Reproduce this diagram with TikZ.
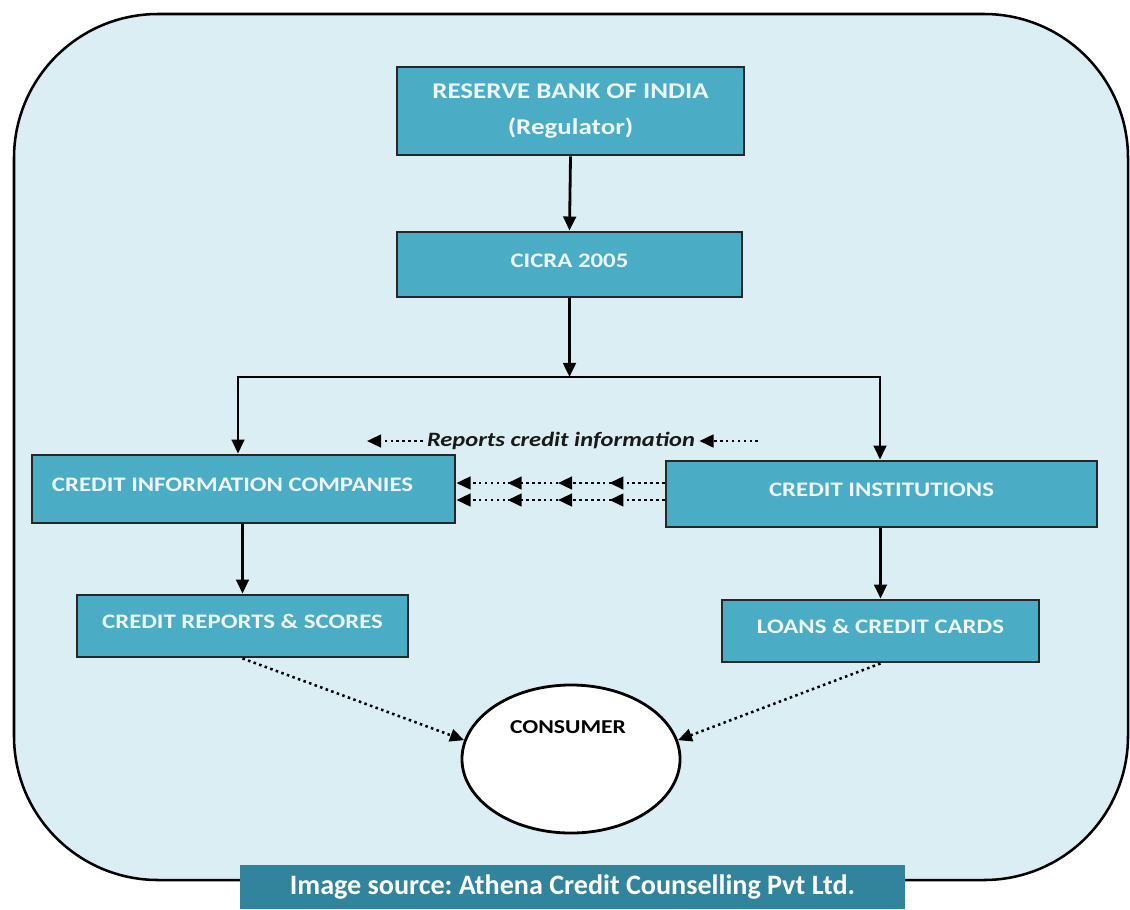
\documentclass[tikz,border=0pt]{standalone}
\usepackage{fontspec}
\setmainfont{Carlito}[FakeStretch=1.2]
\newfontfamily\srcfont{Carlito}
\usepackage{tikz}
\usetikzlibrary{arrows.meta}
\usetikzlibrary{shapes.geometric, calc, decorations.markings}
\frenchspacing

\definecolor{panel}{HTML}{DBEEF4}
\definecolor{boxfill}{HTML}{4BACC6}
\definecolor{banner}{HTML}{31849B}
\definecolor{boxtext}{HTML}{EEF8FB}

\begin{document}
\begin{tikzpicture}[x=0.025cm, y=-0.025cm,
    box/.style={draw=black!85, fill=boxfill, line width=2pt, text=boxtext,
        font=\bfseries\fontsize{14.7}{25}\selectfont, inner sep=0pt, text height=11pt, text depth=7pt},
    arr/.style={-{Triangle[length=10pt,width=9pt]}, line width=2pt},
    dotarr/.style={-{Triangle[length=10pt,width=9pt]}, line width=1.8pt,
        dash pattern=on 1.8pt off 2.4pt}]
    \useasboundingbox (0,0) rectangle (1130,909);
    \fill[white] (0,0) rectangle (1130,909);

    % Cadre
    \draw[fill=panel, line width=1.8pt, rounded corners=3.6cm] (14,14) rectangle (1128,880);

    % Boites
    \node[box, minimum width=8.675cm, minimum height=2.2cm, align=center, text height=, text depth=,
        font=\bfseries\fontsize{16}{25}\selectfont] (rbi) at (570.5,111)
        {RESERVE BANK OF INDIA\\(Regulator)};
    \node[box, minimum width=8.625cm, minimum height=1.625cm] (cicra) at (569.5,264.5) {CICRA 2005};
    \node[box, text width=9.575cm, inner xsep=0.5cm, align=flush left, minimum height=1.7cm] (cic) at (243.5,489)
        {CREDIT INFORMATION COMPANIES};
    \node[box, minimum width=10.775cm, minimum height=1.65cm] (ci) at (881.5,494) {CREDIT INSTITUTIONS};
    \node[box, minimum width=8.275cm, minimum height=1.55cm] (crs) at (242.5,626) {CREDIT REPORTS \& SCORES};
    \node[box, minimum width=7.925cm, minimum height=1.55cm] (lcc) at (880.5,631) {LOANS \& CREDIT CARDS};

    % Consommateur
    \node[ellipse, draw, fill=white, line width=2pt, minimum width=5.45cm, minimum height=3.7cm] (cons) at (571,759) {};
    \node[font=\bfseries\fontsize{14}{16}\selectfont] (constxt) at (568,727) {CONSUMER};

    % Fleches pleines
    \coordinate (jl) at (238,377);
    \coordinate (jr) at (880,377);
    \draw[arr] (rbi.south) -- (cicra.north);
    \draw[arr] (cicra.south) -- (cicra.south |- jl);
    \draw[line width=2pt] ([xshift=-1pt]jl) -- ([xshift=1pt]jr);
    \draw[arr] (jl) -- (jl |- cic.north);
    \draw[arr] (jr) -- (jr |- ci.north);
    \draw[arr] (crs.north |- cic.south) -- (crs.north);
    \draw[arr] (lcc.north |- ci.south) -- (lcc.north);

    % Fleches pointillees
    \node[font=\bfseries\itshape\fontsize{14.5}{18}\selectfont, text=black!90, inner xsep=3pt] (rep) at (561,441)
        {Reports credit information};
    \coordinate (repl) at (367,441);
    \coordinate (repr) at (758,441);
    \draw[dotarr] (rep.west) -- (repl);
    \draw[dotarr] (repr) -- (rep.east);
    \coordinate (ya) at (0,483);
    \coordinate (yb) at (0,500);
    \foreach \yy in {ya,yb}
        \draw[dotarr, postaction={decorate}, decoration={markings,
            mark=at position 0.265 with {\arrow{Triangle[length=10pt,width=9pt]}},
            mark=at position 0.512 with {\arrow{Triangle[length=10pt,width=9pt]}},
            mark=at position 0.754 with {\arrow{Triangle[length=10pt,width=9pt]}}}]
            (ci.west |- \yy) -- (cic.east |- \yy);
    \draw[dotarr] (crs.south) -- (cons.170);
    \draw[dotarr] (lcc.south) -- (cons.10);

    % Source
    \node[fill=banner, text=white, minimum width=16.625cm, minimum height=1.1cm,
        font=\srcfont\bfseries\fontsize{20}{22}\selectfont] (src) at (572.5,887)
        {Image source: Athena Credit Counselling Pvt Ltd.};
\end{tikzpicture}
\end{document}
